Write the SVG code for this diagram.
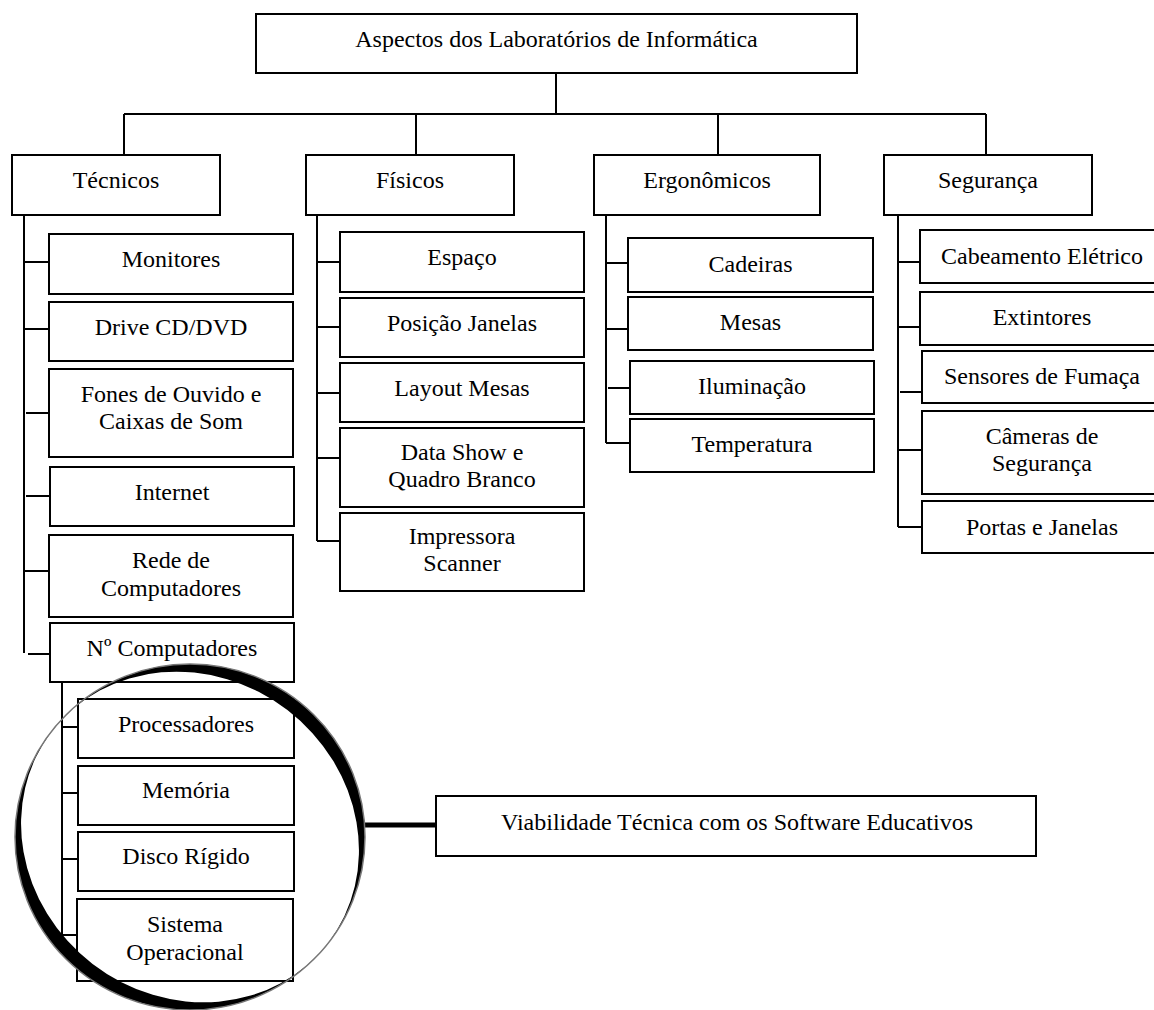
<svg xmlns="http://www.w3.org/2000/svg" width="1154" height="1010" viewBox="0 0 1154 1010">
<style>
.box{fill:#fff;stroke:#000;stroke-width:2}
.t{font-family:'Liberation Serif','Times New Roman',serif;font-size:24px;text-anchor:middle;fill:#000}
.ln{stroke:#000;stroke-width:2;fill:none}
</style>
<rect width="1154" height="1010" fill="#fff"/>
<g id="connectors" class="ln">
<path d="M556,73V114M124,114H986M124,114V155M416,114V155M718,114V155M986,114V155"/>
<path d="M24,215V653M24,262H49M24,329H49M26,413H49M26,496H50M24,571H49M28,654H50"/>
<path d="M62,682V935M62,727H78M62,793H78M62,859H78M62,935H78"/>
<path d="M317,215V541M317,262H340M317,327H340M317,393H340M317,458H340M317,541H340"/>
<path d="M606,215V443M606,263H628M606,329H628M608,388H630M606,443H630"/>
<path d="M898,215V527M898,262H920M898,327H920M900,392H922M898,450H922M898,527H922"/>
</g>
<g id="root"><rect class="box" x="256" y="14" width="601" height="59"/><text class="t" x="556.5" y="47">Aspectos dos Laboratórios de Informática</text></g>
<g id="tecnicos"><rect class="box" x="12" y="155" width="208" height="60"/><text class="t" x="116" y="188">Técnicos</text></g>
<g id="fisicos"><rect class="box" x="306" y="155" width="208" height="60"/><text class="t" x="410" y="188">Físicos</text></g>
<g id="ergonomicos"><rect class="box" x="594" y="155" width="226" height="60"/><text class="t" x="707" y="188">Ergonômicos</text></g>
<g id="seguranca"><rect class="box" x="884" y="155" width="208" height="60"/><text class="t" x="988" y="188">Segurança</text></g>

<g id="monitores"><rect class="box" x="49" y="234" width="244" height="60"/><text class="t" x="171" y="267">Monitores</text></g>
<g id="drive"><rect class="box" x="49" y="302" width="244" height="59"/><text class="t" x="171" y="335">Drive CD/DVD</text></g>
<g id="fones"><rect class="box" x="49" y="369" width="244" height="88"/><text class="t" x="171" y="401.5">Fones de Ouvido e</text><text class="t" x="171" y="429">Caixas de Som</text></g>
<g id="internet"><rect class="box" x="50" y="467" width="244" height="59"/><text class="t" x="172" y="499.5">Internet</text></g>
<g id="rede"><rect class="box" x="49" y="535" width="244" height="82"/><text class="t" x="171" y="568">Rede de</text><text class="t" x="171" y="595.5">Computadores</text></g>
<g id="ncomp"><rect class="box" x="50" y="623" width="244" height="59"/><text class="t" x="172" y="655.5">Nº Computadores</text></g>

<g id="processadores"><rect class="box" x="78" y="699" width="216" height="59"/><text class="t" x="186" y="732">Processadores</text></g>
<g id="memoria"><rect class="box" x="78" y="766" width="216" height="59"/><text class="t" x="186" y="798">Memória</text></g>
<g id="disco"><rect class="box" x="78" y="832" width="216" height="59"/><text class="t" x="186" y="864">Disco Rígido</text></g>
<g id="sistema"><rect class="box" x="77" y="899" width="216" height="82"/><text class="t" x="185" y="932">Sistema</text><text class="t" x="185" y="959.5">Operacional</text></g>

<g id="espaco"><rect class="box" x="340" y="232" width="244" height="60"/><text class="t" x="462" y="265">Espaço</text></g>
<g id="posicao"><rect class="box" x="340" y="298" width="244" height="59"/><text class="t" x="462" y="330.5">Posição Janelas</text></g>
<g id="layout"><rect class="box" x="340" y="363" width="244" height="59"/><text class="t" x="462" y="396">Layout Mesas</text></g>
<g id="datashow"><rect class="box" x="340" y="428" width="244" height="79"/><text class="t" x="462" y="459.5">Data Show e</text><text class="t" x="462" y="487">Quadro Branco</text></g>
<g id="impressora"><rect class="box" x="340" y="513" width="244" height="78"/><text class="t" x="462" y="543.5">Impressora</text><text class="t" x="462" y="571">Scanner</text></g>

<g id="cadeiras"><rect class="box" x="628" y="238" width="245" height="54"/><text class="t" x="750.5" y="271.5">Cadeiras</text></g>
<g id="mesas"><rect class="box" x="628" y="297" width="245" height="53"/><text class="t" x="750.5" y="330">Mesas</text></g>
<g id="iluminacao"><rect class="box" x="630" y="361" width="244" height="53"/><text class="t" x="752" y="394">Iluminação</text></g>
<g id="temperatura"><rect class="box" x="630" y="419" width="244" height="53"/><text class="t" x="752" y="452">Temperatura</text></g>

<g id="cabeamento"><rect class="box" x="920" y="230" width="244" height="53"/><text class="t" x="1042" y="263.5">Cabeamento Elétrico</text></g>
<g id="extintores"><rect class="box" x="920" y="292" width="244" height="53"/><text class="t" x="1042" y="325">Extintores</text></g>
<g id="sensores"><rect class="box" x="922" y="351" width="244" height="52"/><text class="t" x="1042" y="383.5">Sensores de Fumaça</text></g>
<g id="cameras"><rect class="box" x="922" y="411" width="244" height="83"/><text class="t" x="1042" y="443.5">Câmeras de</text><text class="t" x="1042" y="471">Segurança</text></g>
<g id="portas"><rect class="box" x="922" y="501" width="244" height="52"/><text class="t" x="1042" y="535">Portas e Janelas</text></g>

<g id="viabilidade"><rect class="box" x="436" y="796" width="600" height="60"/><text class="t" x="737" y="830">Viabilidade Técnica com os Software Educativos</text></g>
<g id="lens">
<line x1="362" y1="825" x2="436" y2="825" stroke="#000" stroke-width="5"/>
<path fill="#000" fill-rule="evenodd" d="M15,837A175,173 0 1,0 365,837A175,173 0 1,0 15,837Z M328.05,942.93A174,160 37.5 1,0 51.95,731.07A174,160 37.5 1,0 328.05,942.93Z"/>
<ellipse cx="190" cy="837" rx="175" ry="173" fill="none" stroke="#777" stroke-width="1.5"/>
</g>
</svg>
